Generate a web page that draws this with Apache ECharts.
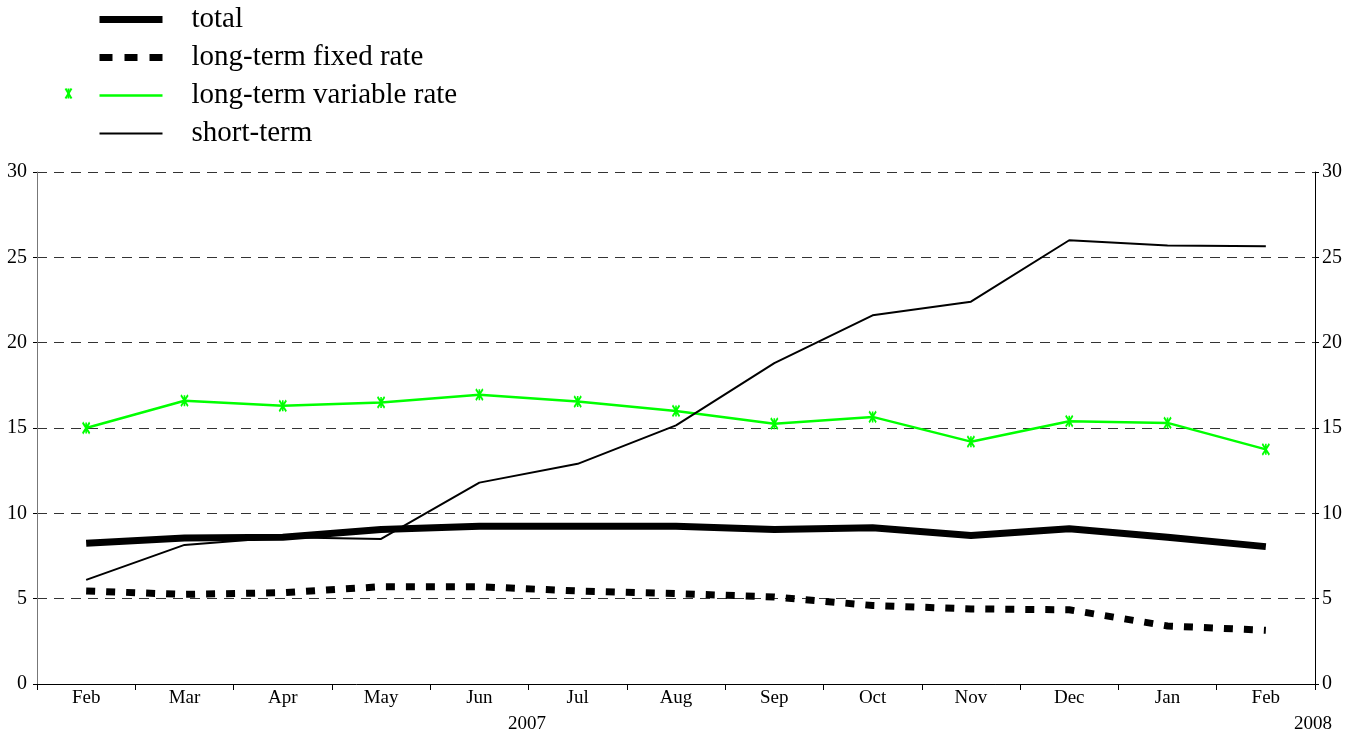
<!DOCTYPE html>
<html>
<head>
<meta charset="utf-8">
<script src="https://cdn.jsdelivr.net/npm/echarts@6/dist/echarts.min.js"></script>
<style>
  html, body { margin: 0; padding: 0; background: #fff; }
  #chart { width: 1358px; height: 733px; }
</style>
</head>
<body>
<div id="chart"></div>
<script>
const months = ["Feb", "Mar", "Apr", "May", "Jun", "Jul", "Aug", "Sep", "Oct", "Nov", "Dec", "Jan", "Feb"];
const totalRate = [8.25, 8.55, 8.6, 9.05, 9.25, 9.25, 9.25, 9.05, 9.15, 8.7, 9.1, 8.6, 8.05];
const fixedRate = [5.45, 5.25, 5.35, 5.7, 5.7, 5.45, 5.3, 5.1, 4.6, 4.4, 4.35, 3.4, 3.15];
const variableRate = [15.0, 16.6, 16.3, 16.5, 16.95, 16.55, 16.0, 15.25, 15.65, 14.2, 15.4, 15.3, 13.75];
const shortTerm = [6.1, 8.15, 8.6, 8.5, 11.8, 12.9, 15.15, 18.8, 21.6, 22.4, 26.0, 25.7, 25.65];
const yearLabels = ["2007", "2008"];

const font = "'Liberation Serif', 'DejaVu Serif', serif";
const starMark = "path://M0,0L10,12M10,0L0,12M5,0L5,12";

let chart = echarts.init(document.getElementById("chart"));

let yAxisBase = {
  type: "value",
  min: 0,
  max: 30,
  interval: 5,
  axisTick: { show: true, length: 4, lineStyle: { color: "#000" } },
  axisLabel: { color: "#000", fontFamily: font, fontSize: 20 }
};

// little green marker shown left of the legend line
let markStyle = { stroke: "#00ff00", lineWidth: 2 };
let legendMark = {
  type: "group",
  left: 63,
  top: 86,
  children: [
    { type: "line", shape: { x1: 0, y1: 0, x2: 6, y2: 10 }, style: markStyle },
    { type: "line", shape: { x1: 6, y1: 0, x2: 0, y2: 10 }, style: markStyle },
    { type: "line", shape: { x1: 3, y1: 0, x2: 3, y2: 10 }, style: markStyle }
  ]
};

let option = {
  animation: false,
  backgroundColor: "#fff",
  grid: { left: 37, right: 43, top: 172, bottom: 49 },
  legend: {
    orient: "vertical",
    left: 91,
    top: 0,
    itemGap: 9,
    itemWidth: 63,
    itemHeight: 28,
    itemStyle: { opacity: 0 },
    textStyle: { fontFamily: font, fontSize: 29, color: "#000", padding: [0, 0, 0, 24] },
    data: [
      { name: "total", lineStyle: { width: 7 } },
      { name: "long-term fixed rate", lineStyle: { width: 7, type: [13, 12] } },
      { name: "long-term variable rate", lineStyle: { width: 2.5 } },
      { name: "short-term", lineStyle: { width: 2 } }
    ]
  },
  xAxis: {
    type: "category",
    data: months,
    axisLine: { lineStyle: { color: "#000", width: 1 } },
    axisTick: { show: true, length: 6, lineStyle: { color: "#000" } },
    axisLabel: { color: "#000", fontFamily: font, fontSize: 19, margin: 5 },
    splitLine: { show: false }
  },
  yAxis: [
    Object.assign({}, yAxisBase, {
      position: "left",
      axisLine: { show: true, lineStyle: { color: "#777" } },
      axisLabel: Object.assign({}, yAxisBase.axisLabel, { margin: 10 }),
      splitLine: { show: true, lineStyle: { color: "#333", type: [10, 7], width: 1 } }
    }),
    Object.assign({}, yAxisBase, {
      position: "right",
      axisLine: { show: true, lineStyle: { color: "#000" } },
      axisLabel: Object.assign({}, yAxisBase.axisLabel, { margin: 7 }),
      splitLine: { show: false }
    })
  ],
  graphic: [
    legendMark,
    {
      type: "text",
      left: 508,
      top: 715,
      style: { text: yearLabels[0], font: "19px " + font, fill: "#000" }
    },
    {
      type: "text",
      left: 1294,
      top: 715,
      style: { text: yearLabels[1], font: "19px " + font, fill: "#000" }
    }
  ],
  series: [
    {
      name: "total",
      type: "line",
      data: totalRate,
      symbol: "none",
      z: 4,
      lineStyle: { color: "#000", width: 7 },
      itemStyle: { color: "#000" }
    },
    {
      name: "long-term fixed rate",
      type: "line",
      data: fixedRate,
      symbol: "none",
      z: 3,
      lineStyle: { color: "#000", width: 7, type: [9, 11] },
      itemStyle: { color: "#000" }
    },
    {
      name: "long-term variable rate",
      type: "line",
      data: variableRate,
      symbol: starMark,
      symbolSize: [7, 11],
      z: 5,
      lineStyle: { color: "#00ff00", width: 2.5 },
      itemStyle: { color: "none", borderColor: "#00ff00", borderWidth: 2 }
    },
    {
      name: "short-term",
      type: "line",
      data: shortTerm,
      symbol: "none",
      z: 6,
      lineStyle: { color: "#000", width: 2 },
      itemStyle: { color: "#000" }
    }
  ]
};

chart.setOption(option);
</script>
</body>
</html>
